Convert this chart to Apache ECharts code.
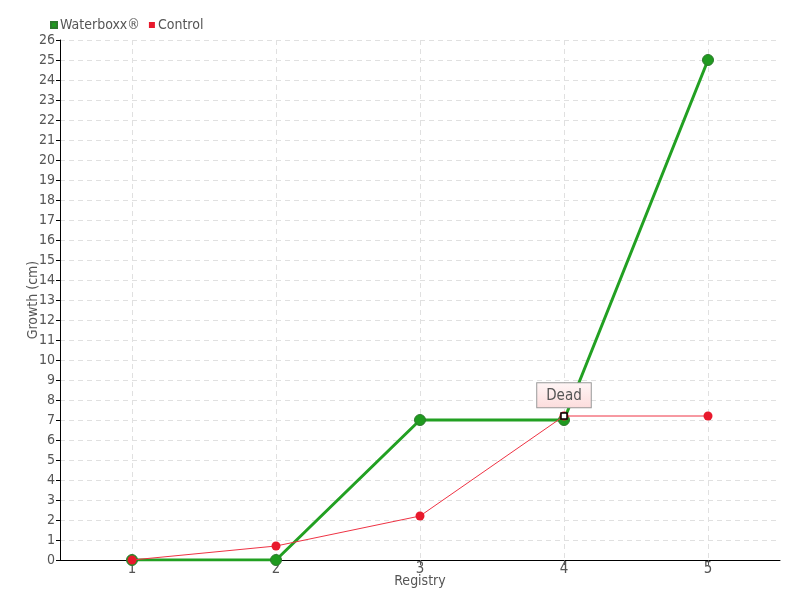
<!DOCTYPE html>
<html>
<head>
<meta charset="utf-8">
<script src="https://cdn.jsdelivr.net/npm/echarts@6/dist/echarts.min.js"></script>
<style>
    html, body { margin: 0; padding: 0; background: #fff; }
    #growth { width: 800px; height: 600px; }
</style>
</head>
<body>
<div id="growth"></div>
<script>
    // registry numbers on x axis
    var registry = [1, 2, 3, 4, 5];
    // growth (cm)
    var waterboxx = [0, 0, 7, 7, 25];
    var control = [0, 0.7, 2.2, 7.2, 7.2];

    var font = '"Liberation Sans Narrow", "DejaVu Sans Condensed", sans-serif';

    function pairs(xs, ys) {
        var out = [];
        for (var k = 0; k < xs.length; k++) out.push([xs[k], ys[k]]);
        return out;
    }

    var myChart = echarts.init(document.getElementById('growth'));
    var option = {
        animation: false,
        textStyle: { fontFamily: font },
        legend: {
            left: 45,
            top: 13,
            itemWidth: 6,
            itemHeight: 6,
            itemGap: 9,
            icon: 'rect',
            textStyle: { color: '#555', fontSize: 14, fontFamily: font, padding: [0, 0, 0, -2] },
            data: ['Waterboxx®', 'Control']
        },
        grid: { left: 60, right: 20, top: 40, bottom: 40 },
        xAxis: {
            type: 'value',
            min: 0.5,
            max: 5.5,
            name: 'Registry',
            nameLocation: 'middle',
            nameGap: 14,
            nameMoveOverlap: false,
            nameTextStyle: { color: '#555', fontSize: 14, fontFamily: font },
            axisLine: { show: true, onZero: false, lineStyle: { color: '#000', width: 1 } },
            axisTick: { show: true, length: 5, customValues: registry, lineStyle: { color: '#555' } },
            axisLabel: { customValues: registry, color: '#555', fontSize: 15, margin: 2, fontFamily: font },
            splitLine: { show: true, lineStyle: { color: '#e0e0e0', type: [5, 4] } }
        },
        yAxis: {
            type: 'value',
            min: 0,
            max: 26,
            interval: 1,
            name: 'Growth (cm)',
            nameLocation: 'middle',
            nameGap: 20,
            nameMoveOverlap: false,
            nameTextStyle: { color: '#555', fontSize: 14, fontFamily: font },
            axisLine: { show: true, lineStyle: { color: '#000', width: 1 } },
            axisTick: { show: true, length: 4, lineStyle: { color: '#000' } },
            axisLabel: { color: '#555', fontSize: 14, margin: 5, fontFamily: font },
            splitLine: { show: true, lineStyle: { color: '#e0e0e0', type: [5, 4] } }
        },
        series: [
            {
                name: 'Waterboxx®',
                type: 'line',
                data: pairs(registry, waterboxx),
                symbol: 'circle',
                symbolSize: 11,
                color: '#1c9c1c',
                lineStyle: { color: '#22a022', width: 3 },
                itemStyle: { color: '#1f9a1f', borderColor: '#2d7a2d', borderWidth: 1 },
                z: 2
            },
            {
                name: 'Control',
                type: 'line',
                data: pairs(registry, control),
                symbol: 'circle',
                symbolSize: 9,
                color: '#e8192c',
                lineStyle: { color: '#ee3344', width: 1 },
                itemStyle: { color: '#e8192c' },
                z: 3,
                markPoint: {
                    symbol: 'rect',
                    symbolSize: 6,
                    itemStyle: { color: '#fff', borderColor: '#000', borderWidth: 1.5 },
                    label: {
                        show: true,
                        position: 'top',
                        distance: 5,
                        formatter: 'Dead',
                        color: '#555',
                        fontSize: 15,
                        fontFamily: font,
                        backgroundColor: {
                            type: 'linear', x: 0, y: 0, x2: 0, y2: 1,
                            colorStops: [{ offset: 0, color: '#fff6f6' }, { offset: 1, color: '#fcdcdc' }]
                        },
                        borderColor: '#999',
                        borderWidth: 1,
                        padding: [5, 9, 4, 9]
                    },
                    data: [{ coord: [registry[3], control[3]] }]
                }
            }
        ]
    };
    option && myChart.setOption(option);
</script>
</body>
</html>
